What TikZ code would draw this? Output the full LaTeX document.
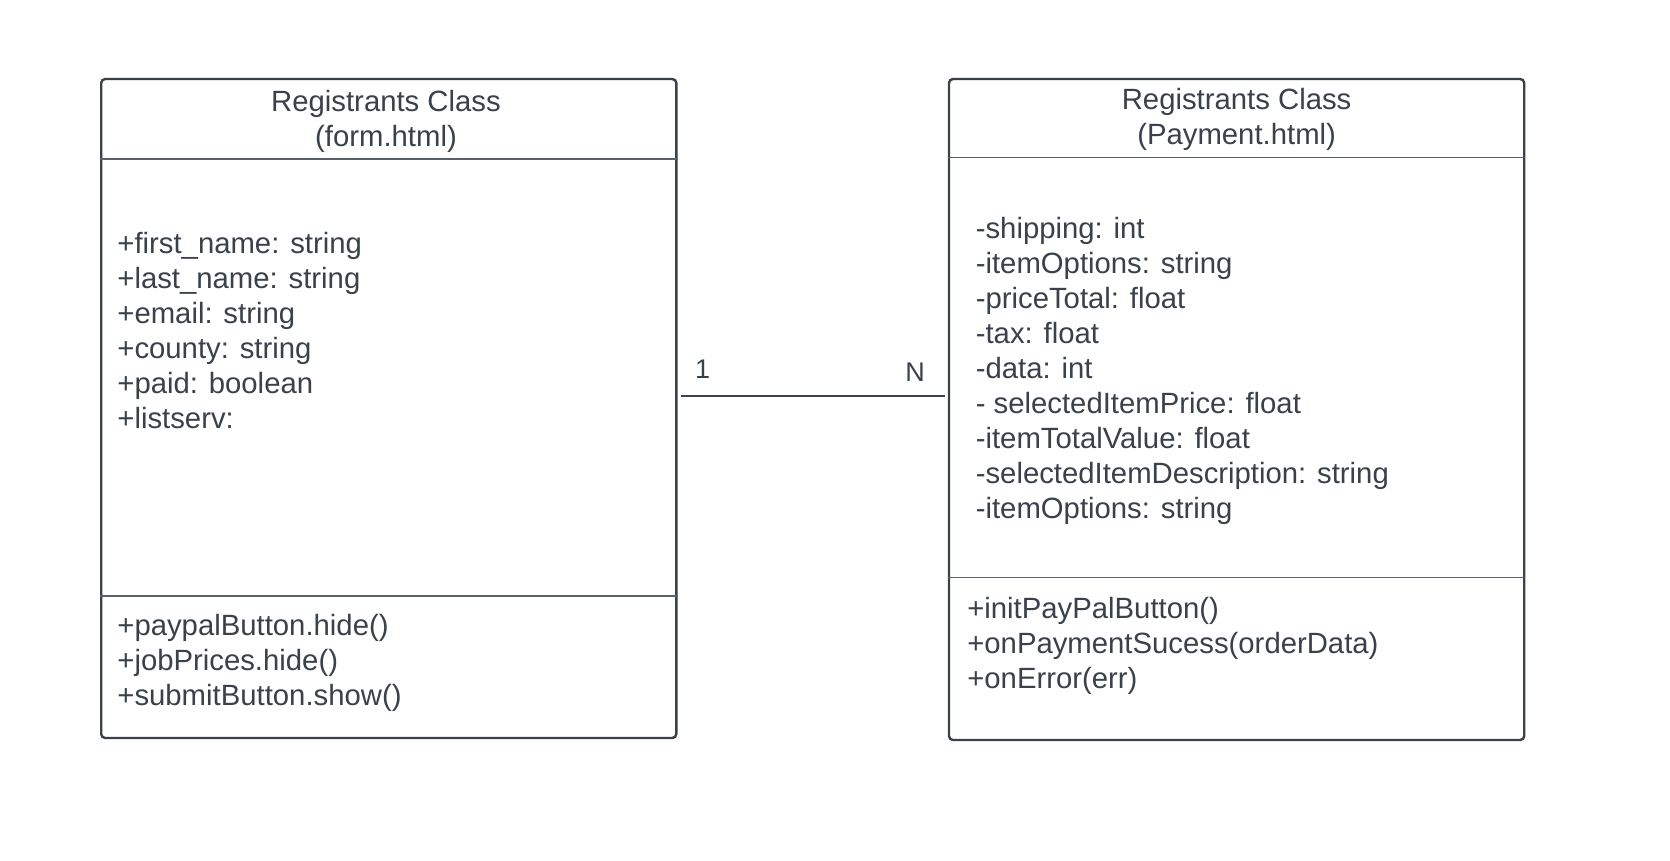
\documentclass[tikz,border=0pt]{standalone}
\usepackage{fontspec}
\setmainfont{Liberation Sans}
\definecolor{ink}{HTML}{3A414A}
\definecolor{rule}{HTML}{5A616B}
\begin{document}
\begin{tikzpicture}[x=1pt,y=-1pt,
  classbox/.style={draw=ink, line width=2.4pt, rounded corners=4pt, inner sep=0pt, fill=white},
  divider/.style={draw=rule, line width=1.4pt},
  txt/.style={inner sep=0pt, anchor=base west, text=ink, font=\fontsize{29.3}{35}\selectfont},
  head/.style={inner sep=0pt, anchor=base, text=ink, font=\fontsize{29.3}{35}\selectfont},
  lbl/.style={inner sep=0pt, text=ink, font=\fontsize{27}{32}\selectfont},
  conn/.style={draw=ink, line width=2.4pt}]
\useasboundingbox[fill=white] (0,0) rectangle (1670,860);
% class boxes
\node[classbox, minimum width=575.1pt, minimum height=659pt] (L) at (388.75,408.5) {};
\node[classbox, minimum width=575.2pt, minimum height=661pt] (R) at (1236.6,409.5) {};
% compartment dividers
\draw[divider] (L.west |- 0,159) -- (L.east |- 0,159);
\draw[divider] (L.west |- 0,596) -- (L.east |- 0,596);
\draw[divider] (R.west |- 0,157.7) -- (R.east |- 0,157.7);
\draw[divider] (R.west |- 0,577.3) -- (R.east |- 0,577.3);
% headers
\node[head] (lh1) at (386,111) {Registrants Class};
\node[head] (lh2) at (386,146) {(form.html)};
\node[head] (rh1) at (1236.6,109) {Registrants Class};
\node[head] (rh2) at (1236.6,144) {(Payment.html)};
% left attributes
\foreach [count=\i] \t in {+first\_name: string,+last\_name: string,+email: string,+county: string,+paid: boolean,+listserv:}
  \node[txt] (la\i) at (117.2,218+35*\i) {\t};
% left methods
\foreach [count=\i] \t in {+paypalButton.hide(),+jobPrices.hide(),+submitButton.show()}
  \node[txt] (lm\i) at (117.2,600+35*\i) {\t};
% right attributes
\foreach [count=\i] \t in {-shipping: int,-itemOptions: string,-priceTotal: float,-tax: float,-data: int,- selectedItemPrice: float,-itemTotalValue: float,-selectedItemDescription: string,-itemOptions: string}
  \node[txt] (ra\i) at (975.6,203+35*\i) {\t};
% right methods
\foreach [count=\i] \t in {+initPayPalButton(),+onPaymentSucess(orderData),+onError(err)}
  \node[txt] (rm\i) at (967.1,583+35*\i) {\t};
% association
\draw[conn] ([shift={(3,318)}]L.north east) -- ([shift={(-3,318)}]R.north west);
\node[lbl, anchor=base west] (one) at (695,378) {1};
\node[lbl, anchor=base east] (many) at (925,381) {N};
\end{tikzpicture}
\end{document}
